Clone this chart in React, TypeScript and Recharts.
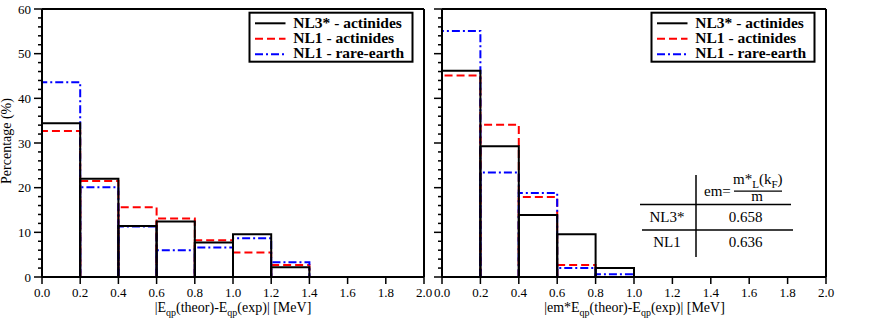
import React from 'react';
import { LineChart, Line, XAxis, YAxis } from 'recharts';

// lower edges of the 0.2 MeV bins
const binStarts = [0, 0.2, 0.4, 0.6, 0.8, 1.0, 1.2];
const binWidth = 0.2;

// left panel: |Eqp(theor)-Eqp(exp)|
const leftNL3Act = [34.4, 22.0, 11.4, 12.4, 7.7, 9.55, 2.2];
const leftNL1Act = [32.7, 21.5, 15.6, 13.1, 8.2, 5.5, 2.7];
const leftNL1Rare = [43.6, 20.1, 11.3, 6.0, 6.6, 8.7, 3.3];

// right panel: |em*Eqp(theor)-Eqp(exp)|
const rightNL3Act = [46.2, 29.3, 13.9, 9.55, 2.0];
const rightNL1Act = [45.1, 34.1, 17.9, 2.7];
const rightNL1Rare = [55.1, 23.4, 18.8, 2.0, 0.6];

const seriesNames = ['NL3* - actinides', 'NL1 - actinides', 'NL1 - rare-earth'];
const seriesColors = ['#000000', '#ff0000', '#0000ff'];
const seriesDash = ['', '8 4', '8 3 2 3'];

const xTicks = [0, 0.2, 0.4, 0.6, 0.8, 1.0, 1.2, 1.4, 1.6, 1.8, 2.0];
const yTicks = [0, 2, 4, 6, 8, 10, 12, 14, 16, 18, 20, 22, 24, 26, 28, 30, 32, 34, 36, 38, 40, 42, 44, 46, 48, 50, 52, 54, 56, 58, 60];

// effective mass table
const tableRows = [
  { name: 'NL3*', em: '0.658' },
  { name: 'NL1', em: '0.636' },
];

const FONT = '"Liberation Serif", "Times New Roman", Times, serif';
const txt = { fontFamily: FONT };

// one outline (left, top, right side) per bin
function binOutline(start: number, value: number) {
  return [
    { x: start, y: 0 },
    { x: start, y: value },
    { x: start + binWidth, y: value },
    { x: start + binWidth, y: 0 },
  ];
}

const yTick = (side: 'left' | 'right', withLabel: boolean) => (props: any) => {
  const { x, y, payload } = props;
  const v = payload.value;
  const major = v % 10 === 0;
  const len = major ? 8 : 4;
  const dir = side === 'left' ? -1 : 1;
  return (
    <g>
      <line x1={x} x2={x + dir * len} y1={y} y2={y} stroke="#000" strokeWidth={1.5} />
      {withLabel && major && (
        <text x={x - 11} y={y + 4.5} textAnchor="end" fontSize={13} style={txt} fill="#000">
          {v}
        </text>
      )}
    </g>
  );
};

const xTick = (side: 'top' | 'bottom') => (props: any) => {
  const { x, y, payload } = props;
  const dir = side === 'top' ? -1 : 1;
  return (
    <g>
      <line x1={x} x2={x} y1={y} y2={y + dir * 7} stroke="#000" strokeWidth={1.5} />
      {side === 'bottom' && (
        <text x={x} y={y + 20} textAnchor="middle" fontSize={13} style={txt} fill="#000">
          {Number(payload.value).toFixed(1)}
        </text>
      )}
    </g>
  );
};

function Panel({ series, leftWidth, rightWidth, width, showYLabels }: any) {
  const axisLine = { stroke: '#000', strokeWidth: 2 };
  return (
    <LineChart width={width} height={320} margin={{ top: 0, right: 0, bottom: 0, left: 0 }}>
      <XAxis xAxisId="bottom" dataKey="x" type="number" domain={[0, 2]} ticks={xTicks} interval={0}
        height={43} tickSize={0} tickMargin={0} axisLine={axisLine} tickLine={false} tick={xTick('bottom')} />
      <XAxis xAxisId="top" orientation="top" dataKey="x" type="number" domain={[0, 2]} ticks={xTicks} interval={0}
        height={9} tickSize={0} tickMargin={0} axisLine={axisLine} tickLine={false} tick={xTick('top')} />
      <YAxis yAxisId="left" type="number" domain={[0, 60]} ticks={yTicks} interval={0} width={leftWidth}
        tickSize={0} tickMargin={0} axisLine={axisLine} tickLine={false} tick={yTick('left', showYLabels)} />
      <YAxis yAxisId="right" orientation="right" type="number" domain={[0, 60]} ticks={yTicks} interval={0} width={rightWidth}
        tickSize={0} tickMargin={0} axisLine={axisLine} tickLine={false} tick={yTick('right', false)} />
      {[1, 2, 0].map((s) =>
        series[s].map((v: number, i: number) => (
          <Line
            key={`${s}-${i}`}
            xAxisId="bottom"
            yAxisId="left"
            data={binOutline(binStarts[i], v)}
            dataKey="y"
            type="linear"
            stroke={seriesColors[s]}
            strokeWidth={2}
            strokeDasharray={seriesDash[s] || undefined}
            dot={false}
            activeDot={false}
            isAnimationActive={false}
          />
        ))
      )}
    </LineChart>
  );
}

function LegendBox({ x, y }: { x: number; y: number }) {
  return (
    <g transform={`translate(${x},${y})`}>
      <rect x={0} y={0} width={163} height={49} fill="#fff" stroke="#000" strokeWidth={2} />
      {seriesNames.map((n, i) => (
        <g key={n}>
          <line x1={5.5} x2={36} y1={10.6 + 15.5 * i} y2={10.6 + 15.5 * i} stroke={seriesColors[i]}
            strokeWidth={2} strokeDasharray={seriesDash[i] || undefined} />
          <text x={43.8} y={15.6 + 15.1 * i} fontSize={15.5} fontWeight="bold" style={txt} fill="#000">
            {n}
          </text>
        </g>
      ))}
    </g>
  );
}

export default function App() {
  return (
    <div style={{ position: 'absolute', left: 0, top: 0, width: 872, height: 320, background: '#fff', fontFamily: FONT }}>
      <div style={{ position: 'absolute', left: 0, top: 0 }}>
        <Panel series={[leftNL3Act, leftNL1Act, leftNL1Rare]} leftWidth={42} rightWidth={12} width={436} showYLabels />
      </div>
      <div style={{ position: 'absolute', left: 426, top: 0 }}>
        <Panel series={[rightNL3Act, rightNL1Act, rightNL1Rare]} leftWidth={16} rightWidth={46} width={446} showYLabels={false} />
      </div>
      <svg width={872} height={320} style={{ position: 'absolute', left: 0, top: 0, pointerEvents: 'none', fontFamily: FONT }}>
        <text transform="translate(11,141) rotate(-90)" textAnchor="middle" fontSize={14} style={txt} fill="#000">
          Percentage (%)
        </text>
        <text x={233} y={311.5} textAnchor="middle" fontSize={14} style={txt} fill="#000">
          |E<tspan fontSize={10} dy={4}>qp</tspan>
          <tspan dy={-4}>(theor)-E</tspan>
          <tspan fontSize={10} dy={4}>qp</tspan>
          <tspan dy={-4}>(exp)| [MeV]</tspan>
        </text>
        <text x={634.5} y={311.5} textAnchor="middle" fontSize={14} style={txt} fill="#000">
          |em*E<tspan fontSize={10} dy={4}>qp</tspan>
          <tspan dy={-4}>(theor)-E</tspan>
          <tspan fontSize={10} dy={4}>qp</tspan>
          <tspan dy={-4}>(exp)| [MeV]</tspan>
        </text>
        <LegendBox x={249.5} y={12.7} />
        <LegendBox x={651.5} y={12.7} />

        {/* effective mass table */}
        <line x1={696} x2={696} y1={175} y2={257} stroke="#000" strokeWidth={1.5} />
        <line x1={640} x2={791} y1={204.5} y2={204.5} stroke="#000" strokeWidth={1.5} />
        <line x1={642} x2={793} y1={230} y2={230} stroke="#000" strokeWidth={1.5} />
        <text x={704} y={196} fontSize={15} style={txt} fill="#000">em=</text>
        <text x={733} y={183.5} fontSize={15} style={txt} fill="#000">
          m*<tspan fontSize={11} dy={4}>L</tspan>
          <tspan dy={-4}>(k</tspan>
          <tspan fontSize={11} dy={4}>F</tspan>
          <tspan dy={-4}>)</tspan>
        </text>
        <line x1={734} x2={782} y1={191.2} y2={191.2} stroke="#000" strokeWidth={1.2} />
        <text x={757} y={201} textAnchor="middle" fontSize={15} style={txt} fill="#000">m</text>
        {tableRows.map((r, i) => (
          <g key={r.name}>
            <text x={667} y={221.7 + 24.8 * i} textAnchor="middle" fontSize={15} style={txt} fill="#000">{r.name}</text>
            <text x={745.5} y={222 + 25.3 * i} textAnchor="middle" fontSize={15} style={txt} fill="#000">{r.em}</text>
          </g>
        ))}
      </svg>
    </div>
  );
}
